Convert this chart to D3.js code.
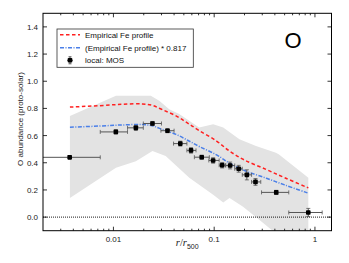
<!DOCTYPE html>
<html>
<head>
<meta charset="utf-8">
<title>O abundance</title>
<style>
  body { margin: 0; background: #fff; }
  text { font-family: "Liberation Sans", Arial, sans-serif; }
</style>
</head>
<body>
<main></main>
<script src="https://cdn.jsdelivr.net/npm/d3@7"></script>
<script>
// data
var ptX   = [0.00368, 0.01057, 0.0167, 0.0244, 0.0344, 0.0461, 0.0589, 0.0752, 0.0976, 0.120, 0.144, 0.175, 0.211, 0.257, 0.413, 0.859];
var ptY   = [0.440, 0.627, 0.657, 0.689, 0.636, 0.541, 0.491, 0.441, 0.417, 0.382, 0.380, 0.356, 0.311, 0.259, 0.182, 0.034];
var ptErr = [0.010, 0.015, 0.018, 0.015, 0.015, 0.018, 0.020, 0.015, 0.020, 0.020, 0.025, 0.025, 0.037, 0.025, 0.015, 0.030];
var ptLo  = [0.0015, 0.0074, 0.0138, 0.0198, 0.0296, 0.0395, 0.0536, 0.0636, 0.0885, 0.112, 0.130, 0.160, 0.190, 0.235, 0.295, 0.55];
var ptHi  = [0.0074, 0.0138, 0.0198, 0.0300, 0.0400, 0.0536, 0.0660, 0.0895, 0.112, 0.130, 0.160, 0.190, 0.235, 0.290, 0.550, 1.18];

var feX    = [0.0037, 0.0072, 0.012, 0.0194, 0.0244, 0.0307, 0.0418, 0.055, 0.071, 0.1056, 0.142, 0.20, 0.33, 0.50, 0.86];
var feY    = [0.810, 0.820, 0.830, 0.833, 0.822, 0.790, 0.745, 0.690, 0.637, 0.560, 0.486, 0.420, 0.350, 0.290, 0.215];
var feScY  = [0.662, 0.670, 0.678, 0.681, 0.672, 0.645, 0.609, 0.564, 0.520, 0.458, 0.397, 0.343, 0.286, 0.237, 0.176];

var upX = [0.0037, 0.0106, 0.0235, 0.0285, 0.0358, 0.045, 0.071, 0.0977, 0.123, 0.178, 0.26, 0.41, 0.44, 0.86];
var upY = [0.745, 0.893, 0.893, 0.856, 0.794, 0.758, 0.659, 0.684, 0.659, 0.573, 0.523, 0.474, 0.461, 0.289];
var lowX = [0.0037, 0.0106, 0.0167, 0.0244, 0.033, 0.0566, 0.0977, 0.123, 0.142, 0.192, 0.28, 0.38, 0.86];
var lowY = [0.141, 0.363, 0.412, 0.486, 0.449, 0.289, 0.165, 0.108, 0.141, 0.079, -0.02, -0.10, -0.40];

var xTicks = [0.01, 0.1, 1];
var yTicks = [0.0, 0.2, 0.4, 0.6, 0.8, 1.0, 1.2, 1.4];

var width = 349, height = 263;
var L = 43, R = 331.5, T = 13.3, B = 230.7;

var svg = d3.select("main").append("svg")
    .attr("width", width).attr("height", height);

var x = d3.scaleLog().domain([0.002, 1.46]).range([L, R]);
var y = d3.scaleLinear().domain([-0.1, 1.5]).range([B, T]);

svg.append("clipPath").attr("id", "clip")
  .append("rect").attr("x", L).attr("y", T).attr("width", R - L).attr("height", B - T);

var plot = svg.append("g").attr("clip-path", "url(#clip)");

// grey band
var band = upX.map(function (d, i) { return [x(d), y(upY[i])]; })
  .concat(lowX.map(function (d, i) { return [x(d), y(lowY[i])]; }).reverse());
plot.append("path")
  .attr("d", "M" + band.join("L") + "Z")
  .attr("fill", "#e3e3e3");

// zero line
plot.append("line")
  .attr("x1", L).attr("x2", R).attr("y1", y(0)).attr("y2", y(0))
  .attr("stroke", "#000").attr("stroke-width", 0.9).attr("stroke-dasharray", "1,1");

var line = d3.line()
  .x(function (d) { return x(d[0]); })
  .y(function (d) { return y(d[1]); })
  .curve(d3.curveCatmullRom.alpha(0.5));

plot.append("path")
  .datum(feX.map(function (d, i) { return [d, feY[i]]; }))
  .attr("d", line).attr("fill", "none")
  .attr("stroke", "#ff2020").attr("stroke-width", 1.5).attr("stroke-dasharray", "3.5,2.5");

plot.append("path")
  .datum(feX.map(function (d, i) { return [d, feScY[i]]; }))
  .attr("d", line).attr("fill", "none")
  .attr("stroke", "#4a7fe8").attr("stroke-width", 1.5).attr("stroke-dasharray", "4,1.5,1,1.5");

// error bars and points
var pts = plot.selectAll("g.pt").data(ptX).enter().append("g").attr("class", "pt");
var eb = "#555";
pts.append("line")
  .attr("x1", function (d, i) { return x(ptLo[i]); })
  .attr("x2", function (d, i) { return x(ptHi[i]); })
  .attr("y1", function (d, i) { return y(ptY[i]); })
  .attr("y2", function (d, i) { return y(ptY[i]); })
  .attr("stroke", eb).attr("stroke-width", 1);
[ptLo, ptHi].forEach(function (arr) {
  pts.append("line")
    .attr("x1", function (d, i) { return x(arr[i]); })
    .attr("x2", function (d, i) { return x(arr[i]); })
    .attr("y1", function (d, i) { return y(ptY[i]) - 2; })
    .attr("y2", function (d, i) { return y(ptY[i]) + 2; })
    .attr("stroke", eb).attr("stroke-width", 0.8);
});
pts.append("line")
  .attr("x1", function (d) { return x(d); })
  .attr("x2", function (d) { return x(d); })
  .attr("y1", function (d, i) { return y(ptY[i] - ptErr[i]); })
  .attr("y2", function (d, i) { return y(ptY[i] + ptErr[i]); })
  .attr("stroke", eb).attr("stroke-width", 1);
[-1, 1].forEach(function (s) {
  pts.append("line")
    .attr("x1", function (d) { return x(d) - 2; })
    .attr("x2", function (d) { return x(d) + 2; })
    .attr("y1", function (d, i) { return y(ptY[i] + s * ptErr[i]); })
    .attr("y2", function (d, i) { return y(ptY[i] + s * ptErr[i]); })
    .attr("stroke", eb).attr("stroke-width", 0.8);
});
pts.append("rect")
  .attr("x", function (d) { return x(d) - 2.3; })
  .attr("y", function (d, i) { return y(ptY[i]) - 2.3; })
  .attr("width", 4.6).attr("height", 4.6).attr("rx", 0.8)
  .attr("fill", "#000");

// frame
svg.append("rect")
  .attr("x", L).attr("y", T).attr("width", R - L).attr("height", B - T)
  .attr("fill", "none").attr("stroke", "#000").attr("stroke-width", 1);

// ticks
var minor = [];
[0.001, 0.01, 0.1, 1].forEach(function (dec) {
  for (var k = 2; k <= 9; k++) {
    var v = dec * k;
    if (v > 0.002 && v < 1.46) minor.push(v);
  }
});
var tk = svg.append("g").attr("stroke", "#000").attr("stroke-width", 0.8);
minor.forEach(function (v) {
  tk.append("line").attr("x1", x(v)).attr("x2", x(v)).attr("y1", B).attr("y2", B - 2);
  tk.append("line").attr("x1", x(v)).attr("x2", x(v)).attr("y1", T).attr("y2", T + 2);
});
xTicks.forEach(function (v) {
  tk.append("line").attr("x1", x(v)).attr("x2", x(v)).attr("y1", B).attr("y2", B - 4);
  tk.append("line").attr("x1", x(v)).attr("x2", x(v)).attr("y1", T).attr("y2", T + 4);
});
yTicks.forEach(function (v) {
  tk.append("line").attr("x1", L).attr("x2", L + 4).attr("y1", y(v)).attr("y2", y(v));
  tk.append("line").attr("x1", R).attr("x2", R - 4).attr("y1", y(v)).attr("y2", y(v));
});

svg.selectAll("text.xt").data(xTicks).enter().append("text")
  .attr("x", function (d) { return x(d); }).attr("y", B + 11)
  .attr("text-anchor", "middle").attr("font-size", 8).attr("fill", "#222")
  .text(function (d) { return d; });
svg.selectAll("text.yt").data(yTicks).enter().append("text")
  .attr("x", L - 5).attr("y", function (d) { return y(d) + 3; })
  .attr("text-anchor", "end").attr("font-size", 8).attr("fill", "#222")
  .text(function (d) { return d.toFixed(1); });

// axis titles
svg.append("text")
  .attr("transform", "translate(23," + ((T + B) / 2 - 3) + ") rotate(-90)")
  .attr("text-anchor", "middle").attr("font-size", 8).attr("fill", "#222")
  .text("O abundance (proto-solar)");
var xl = svg.append("text")
  .attr("x", (L + R) / 2).attr("y", B + 15)
  .attr("text-anchor", "middle").attr("font-size", 9).attr("fill", "#222");
xl.append("tspan").attr("font-style", "italic").attr("font-family", "Liberation Serif, serif").attr("font-size", 10.5).text("r");
xl.append("tspan").attr("font-family", "Liberation Serif, serif").attr("font-size", 10.5).text("/");
xl.append("tspan").attr("font-style", "italic").attr("font-family", "Liberation Serif, serif").attr("font-size", 10.5).text("r");
xl.append("tspan").attr("font-size", 7).attr("dy", 3.5).text("500");

// big element label
svg.append("text")
  .attr("x", 293).attr("y", 47.5).attr("text-anchor", "middle")
  .attr("font-size", 22).attr("fill", "#000").text("O");

// legend
var lg = svg.append("g");
lg.append("rect").attr("x", 57).attr("y", 29).attr("width", 136.3).attr("height", 38.3)
  .attr("fill", "#fff").attr("stroke", "#333").attr("stroke-width", 0.8);
var rows = [34.7, 47.7, 60.3];
lg.append("line").attr("x1", 60).attr("x2", 80).attr("y1", rows[0]).attr("y2", rows[0])
  .attr("stroke", "#ff2020").attr("stroke-width", 1.5).attr("stroke-dasharray", "3.5,2.5");
lg.append("line").attr("x1", 60).attr("x2", 80).attr("y1", rows[1]).attr("y2", rows[1])
  .attr("stroke", "#4a7fe8").attr("stroke-width", 1.5).attr("stroke-dasharray", "4,1.5,1,1.5");
lg.append("line").attr("x1", 67).attr("x2", 73).attr("y1", rows[2]).attr("y2", rows[2]).attr("stroke", eb);
lg.append("line").attr("x1", 70).attr("x2", 70).attr("y1", rows[2] - 3.5).attr("y2", rows[2] + 3.5).attr("stroke", eb);
lg.append("line").attr("x1", 68.5).attr("x2", 71.5).attr("y1", rows[2] - 3.5).attr("y2", rows[2] - 3.5).attr("stroke", eb);
lg.append("line").attr("x1", 68.5).attr("x2", 71.5).attr("y1", rows[2] + 3.5).attr("y2", rows[2] + 3.5).attr("stroke", eb);
lg.append("rect").attr("x", 67.7).attr("y", rows[2] - 2.3).attr("width", 4.6).attr("height", 4.6).attr("rx", 0.8).attr("fill", "#000");
["Empirical Fe profile", "(Empirical Fe profile) * 0.817", "local: MOS"].forEach(function (t, i) {
  lg.append("text").attr("x", 85).attr("y", rows[i] + 3)
    .attr("font-size", 8).attr("fill", "#111").text(t);
});
</script>
</body>
</html>
